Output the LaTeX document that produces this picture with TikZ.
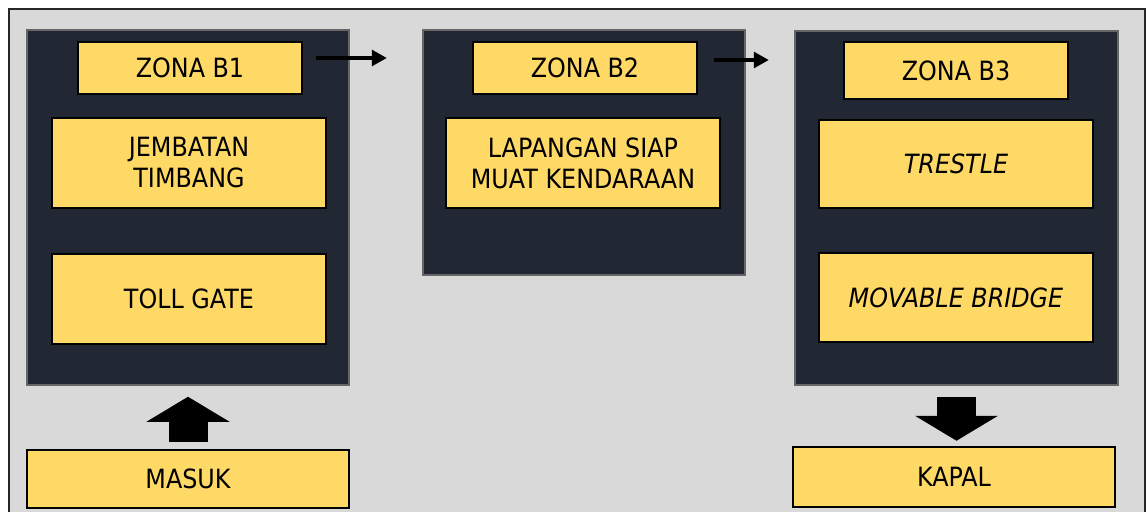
\documentclass[tikz,border=0pt]{standalone}
\usepackage{fontspec}
\setmainfont{DejaVu Sans}[FakeStretch=0.9]
\usetikzlibrary{arrows.meta}
\definecolor{bggray}{HTML}{D9D9D9}
\definecolor{zonedark}{HTML}{222833}
\definecolor{boxyellow}{HTML}{FFD966}
\begin{document}
\begin{tikzpicture}[x=1pt, y=-1pt,
    zone/.style={draw=black!60, line width=1.5pt, fill=zonedark, inner sep=0pt},
    box/.style={draw=black, line width=2.5pt, fill=boxyellow, inner sep=0pt, align=center, font=\fontsize{26.5}{31}\selectfont},
    flow/.style={line width=3pt, -{Triangle[length=15pt, width=16pt]}},
    bigflow/.style={line width=39pt, -{Triangle[length=25pt, width=83pt, line width=0pt]}}]
    \useasboundingbox (0,0) rectangle (1147,511);
    \fill[white] (0,0) rectangle (1147,511);
    \draw[fill=bggray, line width=2pt, draw=black!85] (9,9) rectangle (1145,530);

    % zones
    \node[zone, minimum width=322pt, minimum height=355pt] (panel1) at (188,207.5) {};
    \node[zone, minimum width=322pt, minimum height=245pt] (panel2) at (584,152.5) {};
    \node[zone, minimum width=323pt, minimum height=354pt] (panel3) at (956.5,208) {};

    \node[box, minimum width=224pt, minimum height=52pt] (zb1) at (190,68) {ZONA B1};
    \node[box, minimum width=274pt, minimum height=90pt] (jt) at (189,163) {JEMBATAN\\TIMBANG};
    \node[box, minimum width=274pt, minimum height=90pt] (tg) at (189,299) {TOLL GATE};

    \node[box, minimum width=224pt, minimum height=52pt] (zb2) at (585,68) {ZONA B2};
    \node[box, minimum width=274pt, minimum height=90pt] (lap) at (583,163) {LAPANGAN SIAP\\MUAT KENDARAAN};

    \node[box, minimum width=224pt, minimum height=57pt] (zb3) at (956,70.5) {ZONA B3};
    \node[box, minimum width=274pt, minimum height=88pt] (trestle) at (956,164) {\textit{TRESTLE}};
    \node[box, minimum width=274pt, minimum height=89pt] (mov) at (956,297.5) {\textit{MOVABLE BRIDGE}};

    \node[box, minimum width=322pt, minimum height=58pt] (masuk) at (188,479) {MASUK};
    \node[box, minimum width=322pt, minimum height=60pt] (kapal) at (954,477) {KAPAL};

    % arrows
    \coordinate (a1) at ([shift={(13,-10)}]zb1.east);
    \coordinate (a2) at ([shift={(16,-8)}]zb2.east);
    \draw[flow] (a1) -- ([xshift=-85pt]zb2.west |- a1);
    \draw[flow] (a2) -- ([xshift=-74pt]zb3.west |- a2);

    \draw[bigflow, shorten <=7pt, shorten >=11pt] (masuk.north) -- (panel1.south);
    \draw[bigflow, shorten <=11pt, shorten >=5pt] (panel3.south) -- (panel3.south |- kapal.north);
\end{tikzpicture}
\end{document}
